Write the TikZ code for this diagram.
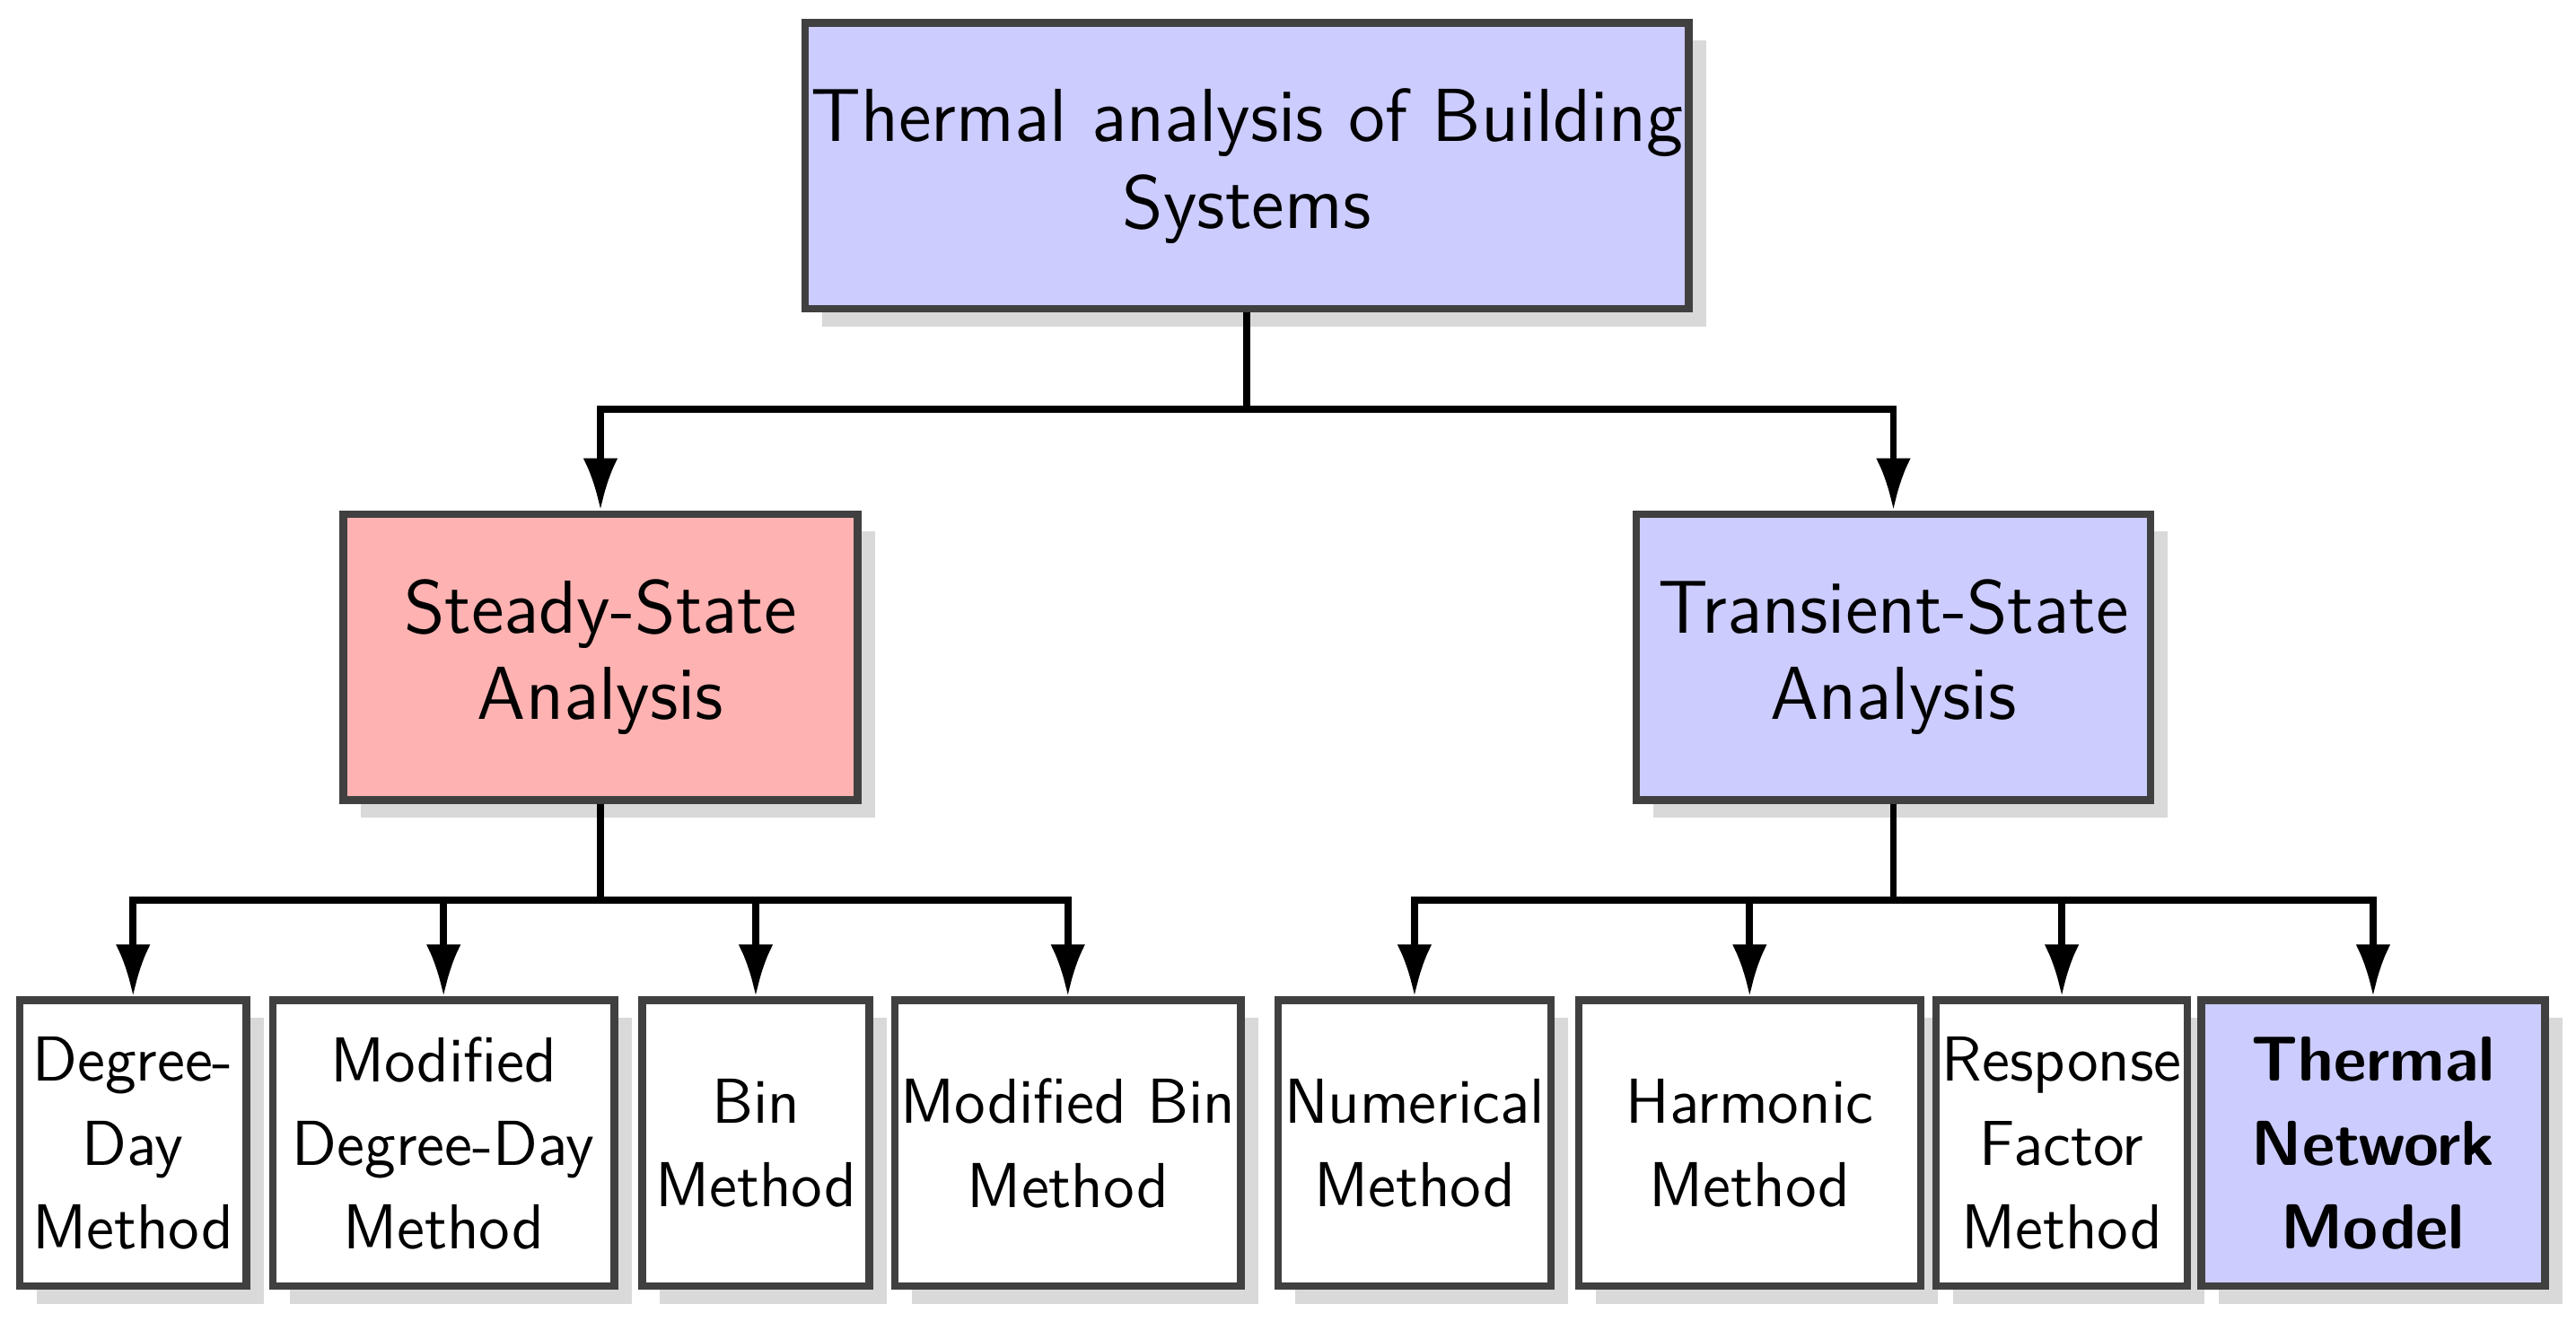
\documentclass[tikz,border=0pt]{standalone}
\usepackage{tikz}
\usetikzlibrary{arrows.meta,shadows}

\tikzset{
  box/.style={draw=black!75, line width=1.3pt, fill=white, align=center,
    minimum height=1.74cm, inner sep=1pt, drop shadow={opacity=0.3, shadow xshift=3pt, shadow yshift=-3pt},
    font=\sffamily\fontsize{11}{14.5}\selectfont},
  arr/.style={-{Latex[length=9pt,width=6pt]}, line width=1.2pt},
}
\colorlet{bluebox}{blue!20}
\colorlet{redbox}{red!30}

\begin{document}
\begin{tikzpicture}[x=0.01cm, y=0.01cm]
    \useasboundingbox (0,0) rectangle (1568,-815);

    \node[box, fill=bluebox, minimum width=4.54cm, font=\sffamily\fontsize{13}{15}\selectfont] (top) at (759,-101) {Thermal analysis of Building\\Systems};
    \node[box, fill=redbox, minimum width=3.13cm, font=\sffamily\fontsize{13}{15}\selectfont] (ss) at (365.5,-400) {Steady-State\\Analysis};
    \node[box, fill=bluebox, minimum width=3.13cm, font=\sffamily\fontsize{13}{15}\selectfont] (ts) at (1152.5,-400) {Transient-State\\Analysis};

    \node[box, minimum width=1.38cm] (dd) at (81,-696) {Degree-\\Day\\Method};
    \node[box, minimum width=2.08cm] (mdd) at (270,-696) {Modified\\Degree-Day\\Method};
    \node[box, minimum width=1.38cm] (bin) at (460,-696) {Bin\\Method};
    \node[box, minimum width=2.08cm] (mbin) at (650,-696) {Modified Bin\\Method};
    \node[box, minimum width=1.66cm] (num) at (861,-696) {Numerical\\Method};
    \node[box, minimum width=2.08cm] (harm) at (1065,-696) {Harmonic\\Method};
    \node[box, minimum width=1.38cm] (resp) at (1255,-696) {Response\\Factor\\Method};
    \node[box, fill=bluebox, minimum width=2.09cm, font=\sffamily\bfseries\fontsize{11}{14.5}\selectfont] (tnm) at (1444.5,-696) {Thermal\\Network\\Model};

    % buses
    \coordinate (b1) at (759,-249);
    \coordinate (b2) at (365.5,-548);
    \coordinate (b3) at (1152.5,-548);
    \draw[line width=1.2pt] (top.south) -- (b1);
    \draw[line width=1.2pt] (ss.south) -- (b2);
    \draw[line width=1.2pt] (ts.south) -- (b3);
    \foreach \n in {ss, ts} \draw[arr] (b1) -| (\n.north);
    \foreach \n in {dd, mdd, bin, mbin} \draw[arr] (b2) -| (\n.north);
    \foreach \n in {num, harm, resp, tnm} \draw[arr] (b3) -| (\n.north);
\end{tikzpicture}
\end{document}
